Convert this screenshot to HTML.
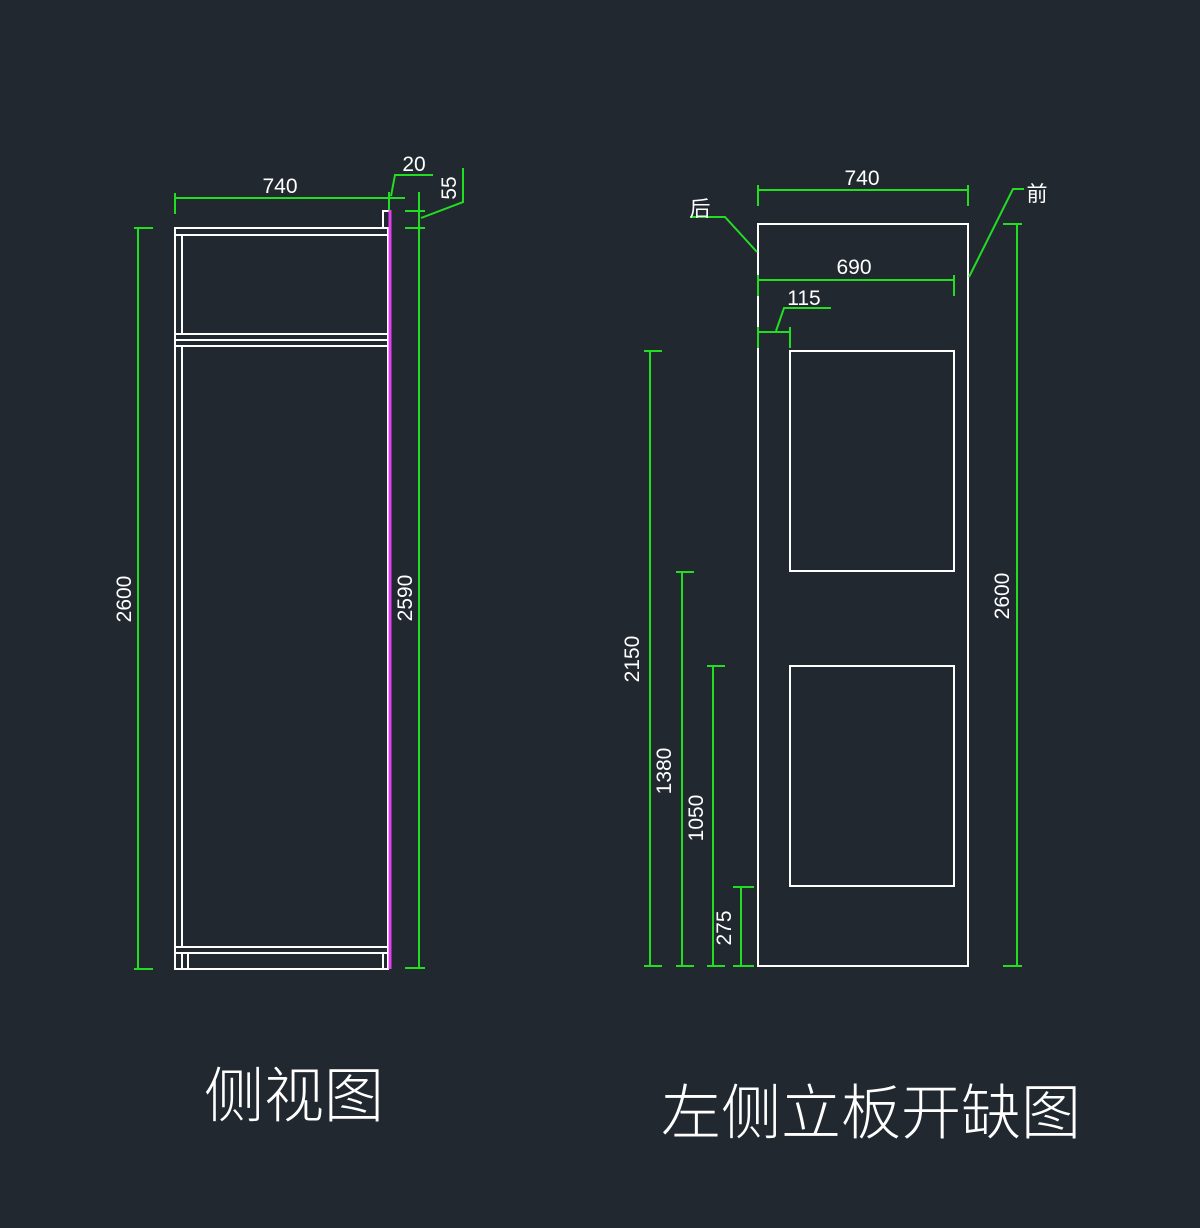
<!DOCTYPE html>
<html><head><meta charset="utf-8"><style>
html,body{margin:0;padding:0;background:#212830;}
svg{display:block;}
text{font-family:"Liberation Sans","Noto Sans CJK SC",sans-serif;fill:#fff;}
</style></head><body>
<svg width="1200" height="1228" viewBox="0 0 1200 1228" xmlns="http://www.w3.org/2000/svg">
<rect width="1200" height="1228" fill="#212830"/>
<g stroke="#fff" stroke-width="2" fill="none">
<!-- left cabinet -->
<rect x="175" y="228" width="213" height="741"/>
<line x1="175" y1="235" x2="388" y2="235"/>
<line x1="182" y1="235" x2="182" y2="333"/>
<line x1="175" y1="334" x2="388" y2="334"/>
<line x1="175" y1="340" x2="388" y2="340"/>
<line x1="175" y1="346" x2="388" y2="346"/>
<line x1="182" y1="346" x2="182" y2="946"/>
<line x1="175" y1="947" x2="388" y2="947"/>
<line x1="175" y1="953" x2="388" y2="953"/>
<line x1="182" y1="953" x2="182" y2="969"/>
<line x1="188" y1="953" x2="188" y2="969"/>
<line x1="383" y1="953" x2="383" y2="969"/>
<polyline points="383,228 383,211 389,211"/>
<!-- right panel -->
<rect x="758" y="224" width="210" height="742"/>
<rect x="790" y="351" width="164" height="220"/>
<rect x="790" y="666" width="164" height="220"/>
</g>
<line x1="390" y1="210" x2="390" y2="969" stroke="#e040f0" stroke-width="3"/>
<g stroke="#22dd22" stroke-width="2" fill="none">
<!-- left dims -->
<line x1="175" y1="198" x2="389" y2="198"/>
<line x1="175" y1="193" x2="175" y2="214"/>
<line x1="389" y1="192" x2="389" y2="210"/>
<line x1="389" y1="198" x2="405" y2="198"/>
<polyline points="391,196 395,175 433,175"/>
<line x1="138" y1="228" x2="138" y2="969"/>
<line x1="134" y1="228" x2="153" y2="228"/>
<line x1="134" y1="969" x2="153" y2="969"/>
<line x1="419" y1="192" x2="419" y2="969"/>
<line x1="405" y1="211" x2="425" y2="211"/>
<line x1="405" y1="228" x2="425" y2="228"/>
<line x1="405" y1="968" x2="425" y2="968"/>
<polyline points="421,218 463,202 463,168"/>
<!-- right dims -->
<line x1="758" y1="190" x2="968" y2="190"/>
<line x1="758" y1="185" x2="758" y2="206"/>
<line x1="968" y1="185" x2="968" y2="206"/>
<line x1="758" y1="280" x2="954" y2="280"/>
<line x1="758" y1="275" x2="758" y2="296"/>
<line x1="954" y1="275" x2="954" y2="296"/>
<line x1="758" y1="332" x2="790" y2="332"/>
<line x1="758" y1="327" x2="758" y2="348"/>
<line x1="790" y1="327" x2="790" y2="348"/>
<polyline points="776,331 784,308 831,308"/>
<polyline points="757,252 725,217 690,217"/>
<polyline points="969,277 1013,189 1024,189"/>
<line x1="1017" y1="224" x2="1017" y2="966"/>
<line x1="1003" y1="224" x2="1022" y2="224"/>
<line x1="1003" y1="966" x2="1022" y2="966"/>
<line x1="650" y1="351" x2="650" y2="966"/>
<line x1="644" y1="351" x2="662" y2="351"/>
<line x1="644" y1="966" x2="662" y2="966"/>
<line x1="682" y1="572" x2="682" y2="966"/>
<line x1="676" y1="572" x2="694" y2="572"/>
<line x1="676" y1="966" x2="694" y2="966"/>
<line x1="713" y1="666" x2="713" y2="966"/>
<line x1="707" y1="666" x2="725" y2="666"/>
<line x1="707" y1="966" x2="725" y2="966"/>
<line x1="741" y1="887" x2="741" y2="966"/>
<line x1="733" y1="887" x2="754" y2="887"/>
<line x1="733" y1="966" x2="754" y2="966"/>
</g>
<g font-size="21">
<text x="280" y="193" text-anchor="middle">740</text>
<text x="414" y="171" text-anchor="middle">20</text>
<text transform="translate(456,188) rotate(-90)" text-anchor="middle">55</text>
<text transform="translate(131,599) rotate(-90)" text-anchor="middle">2600</text>
<text transform="translate(412,598) rotate(-90)" text-anchor="middle">2590</text>
<text x="862" y="185" text-anchor="middle">740</text>
<text x="854" y="274" text-anchor="middle">690</text>
<text x="804" y="305" text-anchor="middle">115</text>
<text x="700" y="216" text-anchor="middle">后</text>
<text x="1037" y="201" text-anchor="middle">前</text>
<text transform="translate(1009,596) rotate(-90)" text-anchor="middle">2600</text>
<text transform="translate(639,659) rotate(-90)" text-anchor="middle">2150</text>
<text transform="translate(671,771) rotate(-90)" text-anchor="middle">1380</text>
<text transform="translate(703,818) rotate(-90)" text-anchor="middle">1050</text>
<text transform="translate(731,928) rotate(-90)" text-anchor="middle">275</text>
</g>
<text x="294" y="1117" font-size="60" font-weight="300" text-anchor="middle">侧视图</text>
<text x="871" y="1134" font-size="60" font-weight="300" text-anchor="middle">左侧立板开缺图</text>
</svg>
</body></html>
